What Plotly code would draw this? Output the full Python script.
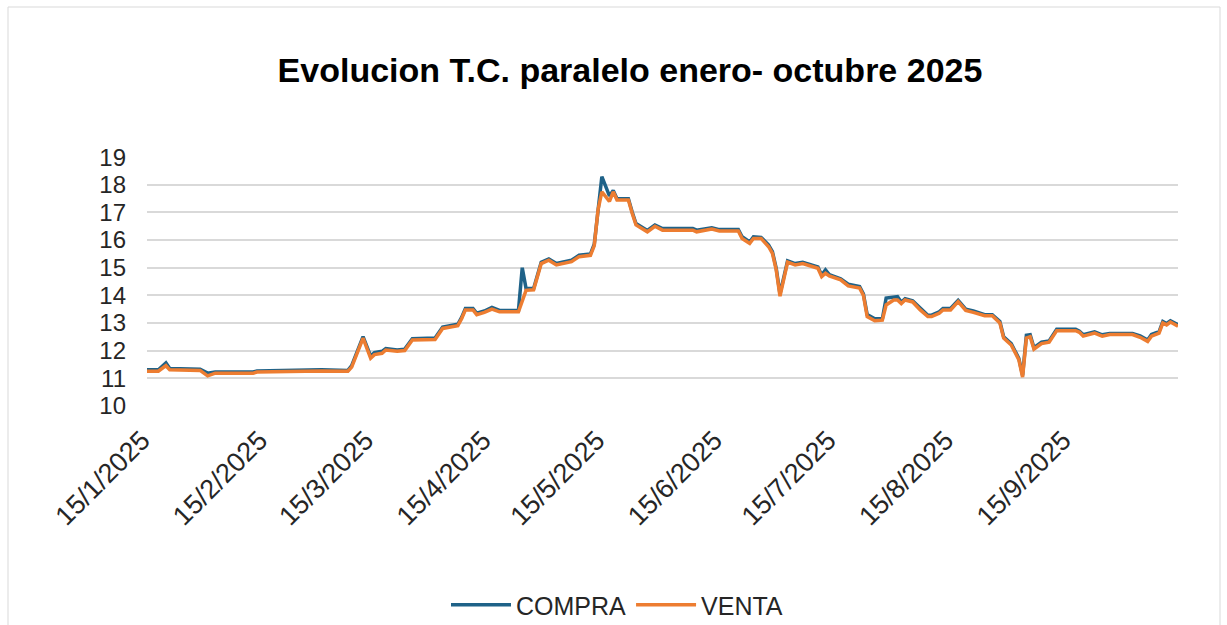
import plotly.graph_objects as go

# ---- data ----
dates = [
    "2025-01-15", "2025-01-18", "2025-01-20", "2025-01-21", "2025-01-29", "2025-01-31",
    "2025-02-02", "2025-02-12", "2025-02-13", "2025-02-20", "2025-02-26", "2025-03-02",
    "2025-03-09", "2025-03-10", "2025-03-13", "2025-03-15", "2025-03-16", "2025-03-18",
    "2025-03-19", "2025-03-22", "2025-03-24", "2025-03-26", "2025-04-01", "2025-04-03",
    "2025-04-07", "2025-04-08", "2025-04-09", "2025-04-11", "2025-04-12", "2025-04-14",
    "2025-04-16", "2025-04-18", "2025-04-23", "2025-04-24", "2025-04-25", "2025-04-27",
    "2025-04-29", "2025-05-01", "2025-05-03", "2025-05-07", "2025-05-09", "2025-05-12",
    "2025-05-13", "2025-05-14", "2025-05-15", "2025-05-17", "2025-05-18", "2025-05-19",
    "2025-05-22", "2025-05-23", "2025-05-24", "2025-05-27", "2025-05-29", "2025-05-31",
    "2025-06-08", "2025-06-09", "2025-06-13", "2025-06-15", "2025-06-20", "2025-06-21",
    "2025-06-23", "2025-06-24", "2025-06-26", "2025-06-28", "2025-06-29", "2025-06-30",
    "2025-07-01", "2025-07-03", "2025-07-05", "2025-07-07", "2025-07-09", "2025-07-11",
    "2025-07-12", "2025-07-13", "2025-07-14", "2025-07-17", "2025-07-19", "2025-07-22",
    "2025-07-23", "2025-07-24", "2025-07-26", "2025-07-28", "2025-07-29", "2025-07-31",
    "2025-08-01", "2025-08-02", "2025-08-03", "2025-08-05", "2025-08-07", "2025-08-09",
    "2025-08-10", "2025-08-12", "2025-08-13", "2025-08-15", "2025-08-17", "2025-08-19",
    "2025-08-21", "2025-08-24", "2025-08-26", "2025-08-28", "2025-08-29", "2025-08-31",
    "2025-09-02", "2025-09-03", "2025-09-04", "2025-09-05", "2025-09-06", "2025-09-08",
    "2025-09-10", "2025-09-12", "2025-09-17", "2025-09-18", "2025-09-19", "2025-09-22",
    "2025-09-24", "2025-09-26", "2025-10-02", "2025-10-04", "2025-10-06", "2025-10-07",
    "2025-10-09", "2025-10-10", "2025-10-11", "2025-10-12", "2025-10-14",
]

compra = [
    11.30, 11.30, 11.55, 11.35, 11.32, 11.18,
    11.22, 11.22, 11.26, 11.28, 11.32, 11.30,
    11.28, 11.45, 12.50, 11.80, 11.92, 11.97,
    12.07, 12.02, 12.05, 12.43, 12.45, 12.85,
    12.95, 13.20, 13.52, 13.52, 13.35, 13.43,
    13.56, 13.45, 13.45, 15.00, 14.25, 14.25,
    15.20, 15.32, 15.15, 15.27, 15.45, 15.50,
    15.85, 17.20, 18.30, 17.60, 17.80, 17.50,
    17.50, 17.02, 16.60, 16.35, 16.55, 16.42,
    16.42, 16.36, 16.45, 16.38, 16.38, 16.12,
    15.93, 16.12, 16.10, 15.82, 15.58, 14.98,
    14.05, 15.25, 15.15, 15.20, 15.13, 15.03,
    14.73, 14.92, 14.75, 14.60, 14.40, 14.32,
    14.05, 13.30, 13.15, 13.15, 13.90, 13.95,
    13.95, 13.75, 13.88, 13.80, 13.52, 13.28,
    13.28, 13.40, 13.52, 13.52, 13.82, 13.50,
    13.43, 13.30, 13.30, 13.05, 12.50, 12.25,
    11.72, 11.10, 12.55, 12.57, 12.10, 12.30,
    12.35, 12.77, 12.77, 12.70, 12.57, 12.68,
    12.57, 12.62, 12.62, 12.53, 12.38, 12.58,
    12.68, 13.05, 12.98, 13.08, 12.93,
]

venta = [
    11.25, 11.25, 11.45, 11.30, 11.28, 11.08,
    11.18, 11.18, 11.22, 11.24, 11.28, 11.26,
    11.25, 11.40, 12.45, 11.72, 11.85, 11.90,
    12.02, 11.97, 12.00, 12.38, 12.40, 12.80,
    12.90, 13.15, 13.47, 13.47, 13.30, 13.38,
    13.50, 13.40, 13.40, 13.82, 14.18, 14.20,
    15.15, 15.27, 15.10, 15.22, 15.40, 15.45,
    15.80, 17.10, 17.75, 17.40, 17.75, 17.45,
    17.45, 16.97, 16.55, 16.30, 16.50, 16.36,
    16.36, 16.30, 16.40, 16.33, 16.33, 16.06,
    15.88, 16.06, 16.06, 15.76, 15.52, 14.92,
    13.97, 15.20, 15.10, 15.15, 15.08, 14.98,
    14.68, 14.80, 14.70, 14.56, 14.34, 14.26,
    14.00, 13.23, 13.08, 13.10, 13.65, 13.83,
    13.83, 13.70, 13.83, 13.76, 13.47, 13.23,
    13.23, 13.35, 13.47, 13.47, 13.77, 13.45,
    13.38, 13.26, 13.26, 13.00, 12.45, 12.20,
    11.67, 11.04, 12.45, 12.50, 12.05, 12.25,
    12.30, 12.72, 12.72, 12.66, 12.52, 12.63,
    12.52, 12.58, 12.58, 12.48, 12.33, 12.52,
    12.63, 13.00, 12.93, 13.03, 12.88,
]

tick_dates = ["2025-01-15", "2025-02-15", "2025-03-15", "2025-04-15", "2025-05-15",
              "2025-06-15", "2025-07-15", "2025-08-15", "2025-09-15"]
tick_labels = ["15/1/2025", "15/2/2025", "15/3/2025", "15/4/2025", "15/5/2025",
               "15/6/2025", "15/7/2025", "15/8/2025", "15/9/2025"]

title_text = "Evolucion T.C. paralelo enero- octubre 2025"

# ---- figure ----
FONT = "Liberation Sans, Arial, sans-serif"
TXT = "#262626"

fig = go.Figure()
fig.add_trace(go.Scatter(x=dates, y=compra, mode="lines", name="COMPRA",
                         line=dict(color="#1F6288", width=3.5)))
fig.add_trace(go.Scatter(x=dates, y=venta, mode="lines", name="VENTA",
                         line=dict(color="#ED7D31", width=3.5)))

W, H = 1227, 625
L, R, T, B = 147, 49, 157, 219
pw, ph = W - L - R, H - T - B

def px_x(x):
    return (x - L) / pw

def px_y(y):
    return (H - B - y) / ph

fig.update_layout(
    width=W, height=H,
    margin=dict(l=L, r=R, t=T, b=B, autoexpand=False),
    paper_bgcolor="white", plot_bgcolor="white",
    font=dict(family=FONT, color=TXT, size=24),
    title=dict(text="<b>" + title_text + "</b>", x=630 / W, xanchor="center",
               y=1 - 70 / H, yanchor="middle",
               font=dict(family=FONT, size=34, color="#000000")),
    xaxis=dict(type="date", range=["2025-01-15", "2025-10-14"],
               tickvals=tick_dates, ticktext=tick_labels, tickangle=-45,
               showgrid=False, zeroline=False, showline=False, automargin=False,
               tickfont=dict(size=27, color=TXT), ticks="", ticklen=0,
               ticklabelstandoff=12, ticklabelshift=-5),
    yaxis=dict(range=[9.99, 19.01], dtick=1, tick0=10, showgrid=True,
               gridcolor="#D9D9D9", gridwidth=2, zeroline=False, showline=False,
               automargin=False,
               tickfont=dict(size=24, color=TXT), ticks="", ticklabelstandoff=20),
    legend=dict(orientation="h", x=px_x(617), xanchor="center",
                y=px_y(605), yanchor="middle",
                font=dict(size=25, color=TXT), itemwidth=60,
                bgcolor="rgba(0,0,0,0)"),
    showlegend=True,
    shapes=[dict(type="rect", xref="paper", yref="paper",
                 x0=px_x(8), x1=px_x(1220), y0=px_y(660), y1=px_y(7),
                 line=dict(color="#D9D9D9", width=1), fillcolor="rgba(0,0,0,0)",
                 layer="below")],
)

fig.write_html("out.html", config={"displayModeBar": False},
               post_script="document.body.style.margin='0';")
